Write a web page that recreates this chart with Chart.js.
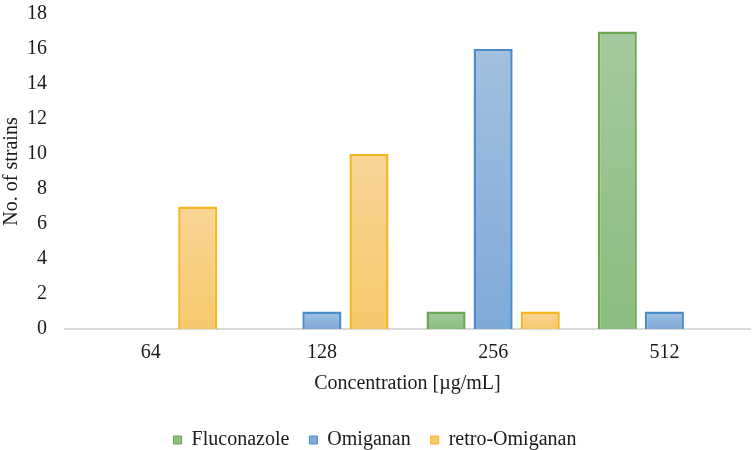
<!DOCTYPE html>
<html>
<head>
<meta charset="utf-8">
<script src="https://cdn.jsdelivr.net/npm/chart.js@4/dist/chart.umd.min.js"></script>
<style>
  html, body { margin: 0; padding: 0; background: #fff; }
  #wrap { width: 752px; height: 450px; }
</style>
</head>
<body>
<div id="wrap"><canvas id="myChart"></canvas></div>
<script>
const concentrations = ["64", "128", "256", "512"];
const fluconazole = [0, 0, 1, 17];
const omiganan = [0, 1, 16, 1];
const retroOmiganan = [7, 10, 1, 0];
const yTicks = [0, 2, 4, 6, 8, 10, 12, 14, 16, 18];

// border, gradient top, gradient bottom
const green = ["#6aa84f", "#a5c99e", "#8bbd80"];
const blue = ["#4a8cc9", "#a2c0e0", "#7eaad8"];
const orange = ["#f5b622", "#f9d596", "#f6c96c"];

function barFill(colors) {
  return function (context) {
    const chart = context.chart;
    const y = chart.scales.y;
    if (!chart.chartArea || !y || context.raw == null) return colors[2];
    const top = y.getPixelForValue(context.raw);
    const bottom = y.getPixelForValue(0);
    if (!(bottom > top)) return colors[2];
    const g = chart.ctx.createLinearGradient(0, top, 0, bottom);
    g.addColorStop(0, colors[1]);
    g.addColorStop(1, colors[2]);
    return g;
  };
}

const ctx = document.getElementById("myChart");
const font = { family: "'Liberation Serif', 'Times New Roman', serif", size: 20 };
const textColor = "#1a1a1a";

new Chart(ctx, {
  type: "bar",
  data: {
    labels: concentrations,
    datasets: [
      {
        label: "Fluconazole",
        data: fluconazole,
        borderColor: green[0],
        backgroundColor: barFill(green),
        legendFill: green[2],
      },
      {
        label: "Omiganan",
        data: omiganan,
        borderColor: blue[0],
        backgroundColor: barFill(blue),
        legendFill: blue[2],
      },
      {
        label: "retro-Omiganan",
        data: retroOmiganan,
        borderColor: orange[0],
        backgroundColor: barFill(orange),
        legendFill: orange[2],
      },
    ],
  },
  options: {
    responsive: true,
    maintainAspectRatio: false,
    animation: false,
    layout: {
      padding: { left: 0, right: 2, top: 14, bottom: -10 },
    },
    datasets: {
      bar: {
        borderWidth: 2.5,
        categoryPercentage: 0.825,
        barPercentage: 0.83,
      },
    },
    plugins: {
      tooltip: { enabled: false },
      legend: {
        position: "bottom",
        labels: {
          font: font,
          color: textColor,
          boxWidth: 8,
          boxHeight: 8,
          padding: 20,
          generateLabels: function (chart) {
            return chart.data.datasets.map((ds, i) => ({
              text: ds.label,
              fillStyle: ds.legendFill,
              strokeStyle: ds.borderColor,
              lineWidth: 1,
              fontColor: textColor,
              datasetIndex: i,
            }));
          },
        },
      },
    },
    scales: {
      x: {
        grid: { display: false, drawTicks: false },
        border: { display: true, color: "#d9d9d9", width: 2 },
        ticks: { font: font, color: textColor, padding: 12 },
        title: {
          display: true,
          text: "Concentration [µg/mL]",
          font: font,
          color: textColor,
          padding: { top: -5, bottom: 14 },
        },
      },
      y: {
        min: 0,
        max: 18,
        afterBuildTicks: function (scale) {
          scale.ticks = yTicks.map((v) => ({ value: v }));
        },
        afterFit: function (scale) {
          scale.width = 65;
          scale.paddingTop = 0;
          scale.paddingBottom = 0;
        },
        grid: { display: false, drawTicks: false },
        border: { display: false },
        ticks: { font: font, color: textColor, padding: 18 },
        title: {
          display: true,
          text: "No. of strains",
          font: font,
          color: textColor,
          padding: 0,
        },
      },
    },
  },
});
</script>
</body>
</html>
